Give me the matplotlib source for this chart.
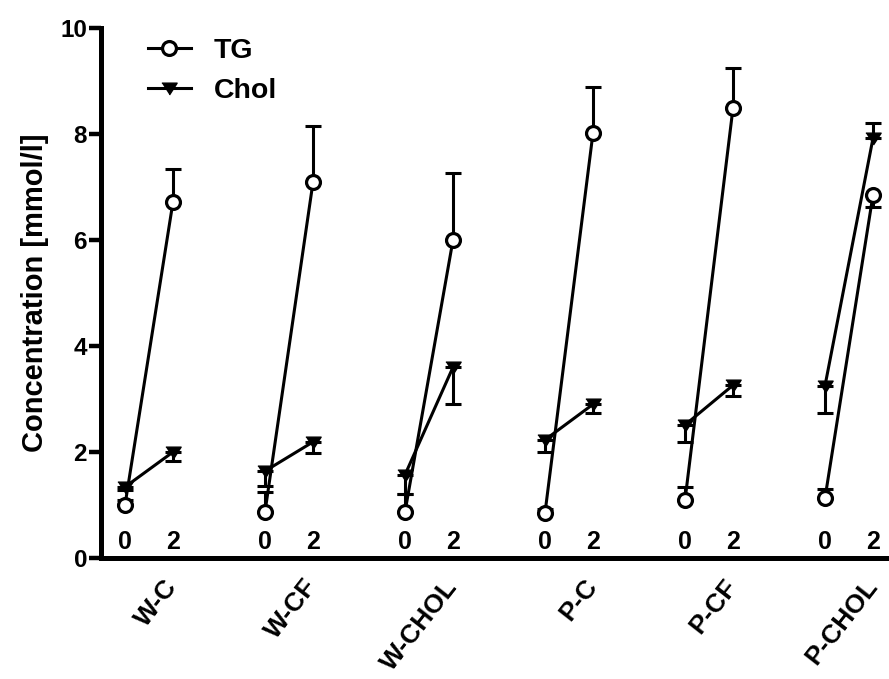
import matplotlib
matplotlib.use("Agg")
import matplotlib.pyplot as plt
import numpy as np

plt.rcParams['font.family'] = ['Liberation Sans', 'DejaVu Sans']
plt.rcParams['font.weight'] = 'bold'

# ---- data ----
groups = ['W-C', 'W-CF', 'W-CHOL', 'P-C', 'P-CF', 'P-CHOL']
days = [0, 2]
day_labels = ['0', '2']

tg_day0 = [1.00, 0.87, 0.87, 0.85, 1.09, 1.13]
tg_day2 = [6.72, 7.09, 6.00, 8.02, 8.49, 6.85]
tg_err_day0 = [0.10, 0.38, 0.34, 0.08, 0.25, 0.17]
tg_err_day2 = [0.62, 1.06, 1.27, 0.86, 0.76, 0.23]
tg_dir_day0 = [1, 1, 1, 1, 1, 1]
tg_dir_day2 = [1, 1, 1, 1, 1, -1]

chol_day0 = [1.34, 1.64, 1.57, 2.23, 2.51, 3.25]
chol_day2 = [2.00, 2.19, 3.60, 2.90, 3.26, 7.92]
chol_err_day0 = [0.06, 0.28, 0.36, 0.23, 0.32, 0.51]
chol_err_day2 = [0.17, 0.21, 0.70, 0.17, 0.20, 0.28]
chol_dir_day0 = [-1, -1, -1, -1, -1, -1]
chol_dir_day2 = [-1, -1, -1, -1, -1, 1]

yticks = [0, 2, 4, 6, 8, 10]

# ---- layout / style ----
group_step = 140 / 24.0
LW = 2.2
tri = [(-1, 0.7), (1, 0.7), (0, -0.85)]

fig = plt.figure(figsize=(8.89, 6.79), dpi=100)
ax = fig.add_axes([101 / 889, 121 / 679, 788 / 889, 530 / 679])

def asym(errs, dirs):
    lo = [e if d < 0 else 0 for e, d in zip(errs, dirs)]
    hi = [e if d > 0 else 0 for e, d in zip(errs, dirs)]
    return lo, hi

for i, g in enumerate(groups):
    xs = [i * group_step + d for d in days]
    tg = [tg_day0[i], tg_day2[i]]
    ch = [chol_day0[i], chol_day2[i]]
    tlo, thi = asym([tg_err_day0[i], tg_err_day2[i]], [tg_dir_day0[i], tg_dir_day2[i]])
    clo, chi = asym([chol_err_day0[i], chol_err_day2[i]], [chol_dir_day0[i], chol_dir_day2[i]])
    ax.errorbar(xs, tg, yerr=[tlo, thi], fmt='none', ecolor='black',
                elinewidth=LW, capsize=5.5, capthick=LW, zorder=2)
    ax.errorbar(xs, ch, yerr=[clo, chi], fmt='none', ecolor='black',
                elinewidth=LW, capsize=5.5, capthick=LW, zorder=2)
    ax.plot(xs, tg, color='black', lw=LW, marker='o', ms=10, mfc='white',
            mec='black', mew=2.3, zorder=3, label='TG' if i == 0 else None)
    ax.plot(xs, ch, color='black', lw=LW, marker=tri, ms=11, mfc='black',
            mec='black', mew=1, zorder=4, label='Chol' if i == 0 else None)
    for d, lab in zip(days, day_labels):
        ax.text(i * group_step + d, 0.3, lab, ha='center', va='center',
                fontsize=18, fontweight='bold')
    ax.text(i * group_step + 2 - 0.4, -0.32, g, ha='right', va='top',
            rotation=52, rotation_mode='anchor', fontsize=19,
            fontweight='bold', clip_on=False)

ax.set_xlim(-1, (889 - 101) / 24.0 - 1)
ax.set_ylim(0, 10)
ax.set_yticks(yticks)
ax.set_yticklabels([str(t) for t in yticks], fontsize=17.5, fontweight='bold')
ax.set_xticks([])
ax.tick_params(axis='y', length=8.5, width=3.2, direction='out', pad=1.5)
for s in ['top', 'right']:
    ax.spines[s].set_visible(False)
for s in ['left', 'bottom']:
    ax.spines[s].set_linewidth(3.6)
ax.set_ylabel('Concentration [mmol/l]', fontsize=21, fontweight='bold', labelpad=8)

leg = ax.legend(loc='upper left', bbox_to_anchor=(0.027, 1.03), frameon=False,
                prop={'size': 20.5, 'weight': 'bold'}, handlelength=1.5,
                handletextpad=0.8, labelspacing=0.5)

fig.savefig('out.png', dpi=100)
